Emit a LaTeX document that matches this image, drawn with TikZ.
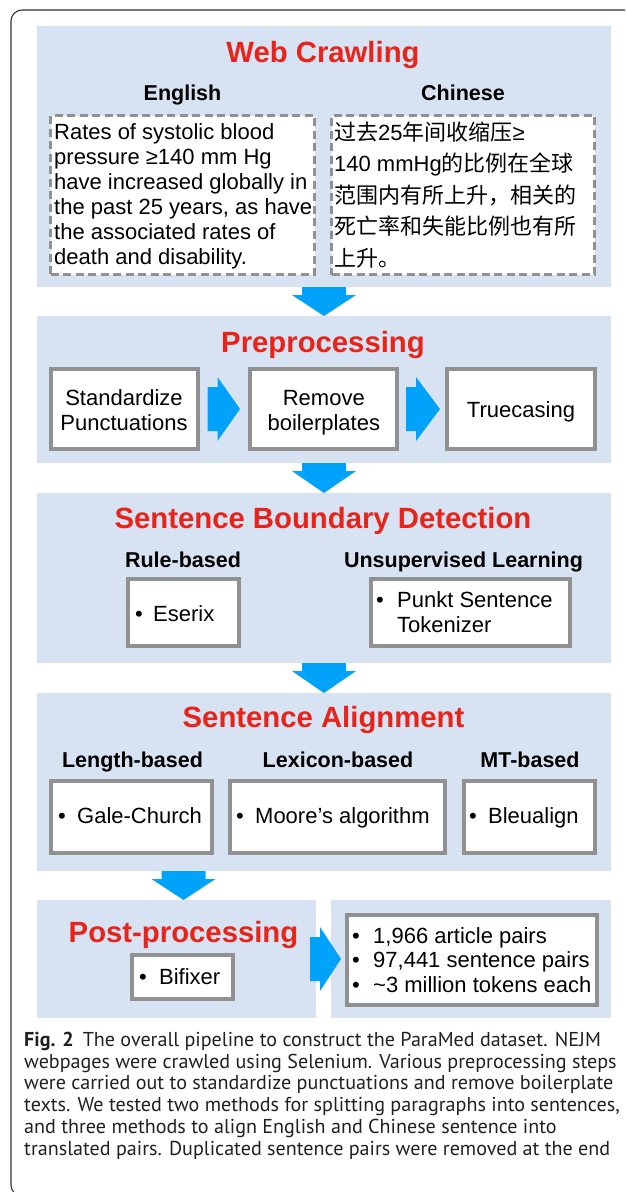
\documentclass[tikz,border=0pt]{standalone}
\usepackage{fontspec}
\setmainfont{Liberation Sans}
\newfontfamily\cjk{Noto Sans CJK SC}
\newfontfamily\capfont{PT Sans}
\usetikzlibrary{calc}

\definecolor{panelblue}{RGB}{215,227,242}
\definecolor{arrowblue}{RGB}{0,162,250}
\definecolor{titlered}{RGB}{232,35,25}
\definecolor{boxgray}{RGB}{145,145,145}
\definecolor{captext}{RGB}{35,31,32}

\newcommand{\topstrut}{\rule{0pt}{20pt}}
\newcommand{\bul}[1][19pt]{\makebox[#1][l]{•}}
\newcommand{\lat}[1]{{\rmfamily #1}}
\newcommand{\blkdown}[2]{\fill[arrowblue] let \p1=(#1), \p2=(#2) in
  (\x1-22pt,\y1) -- (\x1+22pt,\y1) -- (\x1+22pt,\y1-8pt) -- (\x1+32pt,\y1-8pt)
  -- (\x1,\y2) -- (\x1-32pt,\y1-8pt) -- (\x1-22pt,\y1-8pt) -- cycle;}
\newcommand{\blkright}[2]{\fill[arrowblue] let \p1=(#1), \p2=(#2) in
  (\x1,\y1+22pt) -- (\x1+10pt,\y1+22pt) -- (\x1+10pt,\y1+32pt) -- (\x2,\y1)
  -- (\x1+10pt,\y1-32pt) -- (\x1+10pt,\y1-22pt) -- (\x1,\y1-22pt) -- cycle;}

\tikzset{
  panel/.style={fill=panelblue, draw=none, inner sep=0pt, outer sep=0pt},
  solidbox/.style={draw=boxgray, line width=4pt, fill=white, inner sep=0pt, outer sep=0pt},
  dashbox/.style={draw=boxgray, line width=3pt, dash pattern=on 8pt off 4.5pt, fill=white, inner sep=0pt, outer sep=0pt},
  titletext/.style={text=titlered, font=\fontsize{29.3}{34}\selectfont\bfseries, anchor=base, inner sep=0pt},
  subhead/.style={font=\fontsize{21.5}{25}\selectfont\bfseries, anchor=base, inner sep=0pt},
  body/.style={font=\fontsize{22}{25}\selectfont, inner sep=0pt},
  captionstyle/.style={font=\capfont\fontsize{20.1}{21.8}\selectfont, text=captext, inner sep=0pt, anchor=north west, align=left},
}

\begin{document}
\begin{tikzpicture}[x=1pt, y=-1pt]
\useasboundingbox (0,0) rectangle (625,1192);

% outer frame
\begin{scope}
  \clip (0,0) rectangle (625,1192);
  \draw[line width=1.1pt, draw=black!80, rounded corners=11pt] (11,10) rectangle (650,1196);
\end{scope}

% panels
\node[panel, minimum width=574pt, minimum height=261pt] (p1) at (324,156.5) {};
\node[panel, minimum width=574pt, minimum height=147pt] (p2) at (324,389.5) {};
\node[panel, minimum width=574pt, minimum height=170pt] (p3) at (324,578) {};
\node[panel, minimum width=574pt, minimum height=178pt] (p4) at (324,782) {};
\node[panel, minimum width=279pt, minimum height=118pt] (p5a) at (176.5,959) {};
\node[panel, minimum width=280pt, minimum height=118pt] (p5b) at (471,959) {};

% Web crawling
\node[titletext] (t1) at (323,62) {Web Crawling};
\node[subhead] (enh) at (182.5,100) {English};
\node[subhead] (zhh) at (463,100) {Chinese};
\node[dashbox, minimum width=264pt, minimum height=159pt] (enbox) at (182.5,195) {};
\node[dashbox, minimum width=263pt, minimum height=159pt] (zhbox) at (463,195) {};
\node[body, anchor=north west, align=left] (entext) at (54,119.3)
  {\topstrut Rates of systolic blood\\pressure ≥140 mm Hg\\have increased globally in\\the past 25 years, as have\\the associated rates of\\death and disability.};
\node[anchor=north west, align=left, inner sep=0pt, font=\cjk\fontsize{22}{31.5}\selectfont] (zhtext) at (334,118)
  {\rule{0pt}{22pt}过去\lat{25}年间收缩压\lat{≥}\\\lat{140 mmHg}的比例在全球\\范围内有所上升，相关的\\死亡率和失能比例也有所\\上升。};

% Preprocessing
\node[titletext] (t2) at (323,352) {Preprocessing};
\node[solidbox, minimum width=147pt, minimum height=80pt] (b1) at (124,409) {};
\node[solidbox, minimum width=147pt, minimum height=80pt] (b2) at (323.5,409) {};
\node[solidbox, minimum width=148pt, minimum height=80pt] (b3) at (521,409) {};
\node[body, anchor=north, align=center] (b1t) at (124,385) {\topstrut Standardize\\Punctuations};
\node[body, anchor=north, align=center] (b2t) at (323.8,385) {\topstrut Remove\\boilerplates};
\node[body, anchor=base] (b3t) at (521,417) {Truecasing};

% Sentence boundary detection
\node[titletext] (t3) at (323,528) {Sentence Boundary Detection};
\node[subhead] (rbh) at (183,567) {Rule-based};
\node[subhead] (ulh) at (463.5,567) {Unsupervised Learning};
\node[solidbox, minimum width=111pt, minimum height=67pt] (eser) at (183.5,612.5) {};
\node[solidbox, minimum width=199pt, minimum height=67pt] (punkt) at (470.5,612.5) {};
\node[body, anchor=base west] (esert) at (135,621) {\bul[18pt]Eserix};
\node[body, anchor=north west, align=left] (punktt) at (376,587)
  {\topstrut\bul[21pt]Punkt Sentence\\\hspace*{21pt}Tokenizer};

% Sentence alignment
\node[titletext] (t4) at (323.5,727) {Sentence Alignment};
\node[subhead] (lenh) at (132.5,767) {Length-based};
\node[subhead] (lexh) at (338,767) {Lexicon-based};
\node[subhead] (mth) at (530,767) {MT-based};
\node[solidbox, minimum width=161pt, minimum height=72pt] (gale) at (131.5,816.5) {};
\node[solidbox, minimum width=215pt, minimum height=72pt] (moore) at (337.5,816.5) {};
\node[solidbox, minimum width=131pt, minimum height=72pt] (bleu) at (529.5,816.5) {};
\node[body, anchor=base west] (galet) at (58,823) {\bul Gale-Church};
\node[body, anchor=base west] (mooret) at (236,823) {\bul[19pt]Moore’s algorithm};
\node[body, anchor=base west] (bleut) at (469,823) {\bul[19pt]Bleualign};

% Post-processing
\node[titletext] (t5) at (183.5,942) {Post-processing};
\node[solidbox, minimum width=101pt, minimum height=44pt] (bif) at (182.5,977) {};
\node[body, anchor=base west] (bift) at (139,984) {\bul[20pt]Bifixer};
\node[solidbox, minimum width=250pt, minimum height=90pt] (stats) at (472,960) {};
\node[body, anchor=north west, align=left, font=\fontsize{22}{24.5}\selectfont] (statst) at (352,923)
  {\topstrut\bul[21pt]1,966 article pairs\\\bul[21pt]97,441 sentence pairs\\\bul[21pt]\textasciitilde 3 million tokens each};

% block arrows
\blkdown{p1.south}{p2.north}
\blkdown{p2.south}{p3.north}
\blkdown{p3.south}{p4.north}
\blkdown{p4.south -| t5}{p5a.north -| t5}
\blkright{$(b1.east)+(10,0)$}{$(b2.west)+(-10,0)$}
\blkright{$(b2.east)+(9,0)$}{$(b3.west)+(-7,0)$}
\blkright{$(p5a.east)+(-6,0)$}{$(stats.west)+(-6,0)$}

% caption
\node[captionstyle] (cap) at (24,1028)
  {\rule{0pt}{18pt}\textbf{Fig. 2}\hspace{0.45em}The overall pipeline to construct the ParaMed dataset. NEJM\\
   webpages were crawled using Selenium. Various preprocessing steps\\
   were carried out to standardize punctuations and remove boilerplate\\
   texts. We tested two methods for splitting paragraphs into sentences,\\
   and three methods to align English and Chinese sentence into\\
   translated pairs. Duplicated sentence pairs were removed at the end};
\end{tikzpicture}
\end{document}
